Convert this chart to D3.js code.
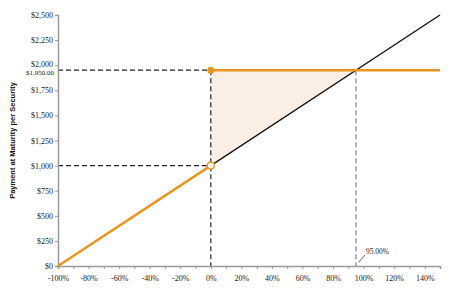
<!DOCTYPE html>
<html>
<head>
<meta charset="utf-8">
<script src="https://cdn.jsdelivr.net/npm/d3@7"></script>
<style>
  body { margin: 0; background: #fff; }
</style>
</head>
<body>
<div id="chart"></div>
<script>
const xTicks = [-1, -0.8, -0.6, -0.4, -0.2, 0, 0.2, 0.4, 0.6, 0.8, 1, 1.2, 1.4];
const yTicks = [0, 250, 500, 750, 1000, 1250, 1500, 1750, 2000, 2250, 2500];
const principal = 1000;
const capValue = 1950;
const capReturn = 0.95;
// security payoff: downside 1:1, capped above
const securityDown = [[-1, 0], [0, 1000]];
const securityUp = [[0, 1950], [1.5, 1950]];
const underlying = [[0, 1000], [1.5, 2500]];
const shadeArea = [[0, 1950], [0, 1000], [0.95, 1950]];

const orange = "#E8961E";
const axisGray = "#999";

const svg = d3.select("#chart").append("svg")
    .attr("width", 458)
    .attr("height", 288);

const x = d3.scaleLinear().domain([-1, 1.5]).range([58, 440]);
const y = d3.scaleLinear().domain([0, 2500]).range([266, 15]);

const line = d3.line().x(d => x(d[0])).y(d => y(d[1]));

// shaded gain region
svg.append("path")
    .attr("d", line(shadeArea) + "Z")
    .attr("fill", "#FBEEE5");

// guide lines
svg.append("line")
    .attr("x1", x(-1)).attr("x2", x(0))
    .attr("y1", y(capValue)).attr("y2", y(capValue))
    .attr("stroke", "#222").attr("stroke-width", 1.2)
    .attr("stroke-dasharray", "5,3");
svg.append("line")
    .attr("x1", x(-1)).attr("x2", x(0))
    .attr("y1", y(principal)).attr("y2", y(principal))
    .attr("stroke", "#222").attr("stroke-width", 1.2)
    .attr("stroke-dasharray", "5,3");
svg.append("line")
    .attr("x1", x(0)).attr("x2", x(0))
    .attr("y1", y(capValue)).attr("y2", y(0))
    .attr("stroke", "#222").attr("stroke-width", 1.2)
    .attr("stroke-dasharray", "5,3");
svg.append("line")
    .attr("x1", x(capReturn)).attr("x2", x(capReturn))
    .attr("y1", y(capValue)).attr("y2", y(0))
    .attr("stroke", "#7F7F9F").attr("stroke-width", 1.2)
    .attr("stroke-dasharray", "5,3");

// axes
const xAxis = d3.axisBottom(x)
    .tickValues(d3.range(-1, 1.51, 0.1))
    .tickSize(3)
    .tickFormat(d => {
        const p = Math.round(d * 100);
        return p % 20 === 0 ? p + "%" : "";
    });
const gx = svg.append("g")
    .attr("transform", `translate(0,${y(0)})`)
    .call(xAxis);
gx.select(".domain").attr("stroke", axisGray).attr("stroke-width", 1.5);
gx.selectAll(".tick line").attr("stroke", axisGray);
gx.selectAll("text")
    .attr("font-family", "Liberation Serif, serif")
    .attr("font-size", 8)
    .attr("fill", "#222")
    .attr("dy", "1.1em");

const yAxis = d3.axisLeft(y)
    .tickValues(yTicks)
    .tickSize(3)
    .tickFormat(d => "$" + d3.format(",")(d));
const gy = svg.append("g")
    .attr("transform", `translate(${x(-1)},0)`)
    .call(yAxis);
gy.select(".domain").attr("stroke", axisGray).attr("stroke-width", 1.5);
gy.selectAll(".tick line").attr("stroke", axisGray);
gy.selectAll("text")
    .attr("font-family", "Liberation Serif, serif")
    .attr("font-size", 8)
    .attr("fill", "#222")
    .attr("x", -5)
    .attr("dy", d => d === 2000 ? "0.1em" : "0.32em");

svg.append("text")
    .attr("x", x(-1) - 4)
    .attr("y", y(capValue))
    .attr("dy", "0.75em")
    .attr("text-anchor", "end")
    .attr("font-family", "Liberation Serif, serif")
    .attr("font-size", 7)
    .attr("fill", "#222")
    .text("$1,950.00");

svg.append("text")
    .attr("transform", `translate(15,${(y(0) + y(2500)) / 2}) rotate(-90)`)
    .attr("text-anchor", "middle")
    .attr("font-family", "Liberation Sans, Arial, sans-serif")
    .attr("font-weight", "bold")
    .attr("font-size", 7.5)
    .attr("fill", "#111")
    .text("Payment at Maturity per Security");

// underlying return line
svg.append("path")
    .attr("d", line(underlying))
    .attr("fill", "none")
    .attr("stroke", "#111")
    .attr("stroke-width", 1.3);

// security payoff
svg.append("path")
    .attr("d", line(securityDown))
    .attr("fill", "none")
    .attr("stroke", orange)
    .attr("stroke-width", 2.5);
svg.append("path")
    .attr("d", line(securityUp))
    .attr("fill", "none")
    .attr("stroke", orange)
    .attr("stroke-width", 2.5);

svg.append("circle")
    .attr("cx", x(0)).attr("cy", y(principal)).attr("r", 3.5)
    .attr("fill", "#fff").attr("stroke", orange).attr("stroke-width", 1.5);
svg.append("circle")
    .attr("cx", x(0)).attr("cy", y(capValue)).attr("r", 3.5)
    .attr("fill", orange);

// cap label
svg.append("line")
    .attr("x1", x(capReturn) + 3).attr("y1", y(0) - 4)
    .attr("x2", x(capReturn) + 9).attr("y2", y(0) - 11)
    .attr("stroke", "#444").attr("stroke-width", 0.8);
svg.append("text")
    .attr("x", x(capReturn) + 10)
    .attr("y", y(0) - 12)
    .attr("font-family", "Liberation Serif, serif")
    .attr("font-size", 7.5)
    .attr("fill", "#222")
    .text("95.00%");
</script>
</body>
</html>
